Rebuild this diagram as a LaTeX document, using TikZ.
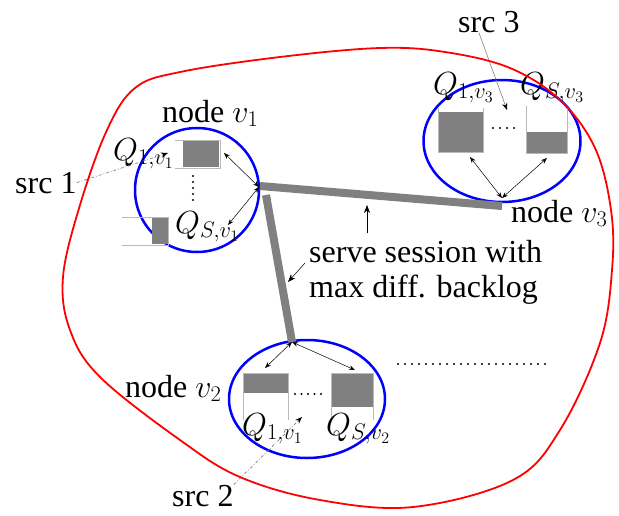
\documentclass[tikz,border=0pt]{standalone}
\usepackage{fix-cm}
\usepackage{fontspec}
\setmainfont{Liberation Serif}
\usetikzlibrary{arrows.meta,shapes.geometric}

\begin{document}
\begin{tikzpicture}[x=1pt,y=-1pt,
  font=\fontsize{32}{35}\selectfont,
  region/.style={draw=blue,line width=2.5pt,ellipse,inner sep=0pt},
  link/.style={draw=gray,line width=8pt},
  qwall/.style={draw=gray!55,line width=1pt},
  qfill/.style={fill=gray},
  label/.style={inner sep=0pt,anchor=base west},
  dbl/.style={{Stealth[length=6pt]}-{Stealth[length=6pt]},line width=0.5pt},
  pointer/.style={-{Stealth[length=8pt]},line width=0.5pt},
  srcarrow/.style={-{Stealth[length=7pt,color=black]},gray,line width=0.7pt,dash dot}]
\useasboundingbox (0,0) rectangle (619,515);

% regions of the three nodes
\node[region,minimum width=124pt,minimum height=124pt] (v1) at (197,190) {};
\node[region,minimum width=156pt,minimum height=118pt] (v2) at (307,399) {};
\node[region,minimum width=157pt,minimum height=122pt] (v3) at (502,141) {};

\coordinate (p1) at (259,187);
\coordinate (p2) at (292,342);
\coordinate (p3) at (502,198);

% links
\coordinate (j1) at (260,186);
\coordinate (j2) at (266,195);
\coordinate (j3) at (502,206);
\draw[link] (j1) -- (j3);
\draw[link] (j2) -- (p2);

% queues of node v1
\fill[qfill] (183,141) rectangle (219,167);
\draw[qwall] (175,140) -- (220,140) -- (220,168) -- (175,168);
\fill[qfill] (152,217) rectangle (168,244);
\draw[qwall] (122,217) -- (168,217) -- (168,245) -- (122,245);
\foreach \y in {176,182,...,200} \fill (193,\y) circle (1.2);
% queues of node v2
\fill[qfill] (243,374) rectangle (288,393);
\draw[qwall] (243,420) -- (243,373) -- (288,373) -- (288,420);
\fill[qfill] (331,374) rectangle (373,407);
\draw[qwall] (331,420) -- (331,373) -- (373,373) -- (373,420);
\foreach \x in {295,301.5,...,322} \fill (\x,394) circle (1.2);
% queues of node v3
\fill[qfill] (438,112) rectangle (483,152);
\draw[qwall] (438,108) -- (438,152) -- (483,152) -- (483,108);
\fill[qfill] (527,132) rectangle (567,153);
\draw[qwall] (526,106) -- (526,153) -- (567,153) -- (567,106);
\foreach \x in {493,500,...,514} \fill (\x,128) circle (1.2);

\coordinate (a11) at (224,153);
\coordinate (a12) at (228,225);
\coordinate (a21) at (265,368);
\coordinate (a22) at (355,370);
\coordinate (a31) at (470,157);
\coordinate (a32) at (547,158);
\draw[dbl] (p1) -- (a11);
\draw[dbl] (p1) -- (a12);
\draw[dbl] (p2) -- (a21);
\draw[dbl] (p2) -- (a22);
\draw[dbl] (p3) -- (a31);
\draw[dbl] (p3) -- (a32);

% labels
\node[label] (n1) at (162,122) {node $v_1$};
\node[label] (n2) at (125,397) {node $v_2$};
\node[label] (n3) at (511,222) {node $v_3$};
\node[label] (q11) at (113,160) {$Q_{1,v_1}$};
\node[label] (qs1) at (175,233) {$Q_{S,v_1}$};
\node[label] (q12) at (242,435) {$Q_{1,v_1}$};
\node[label] (qs2) at (326,435) {$Q_{S,v_2}$};
\node[label] (q13) at (433,94) {$Q_{1,v_3}$};
\node[label] (qs3) at (520,94) {$Q_{S,v_3}$};

% sources
\node[label] (src1) at (15,193) {src 1};
\node[label] (src2) at (172,506) {src 2};
\node[label] (src3) at (458,32) {src 3};
\coordinate (s1) at (168,153);
\coordinate (s2) at (302,417);
\coordinate (s3) at (507,110);
\draw[srcarrow] (src1.east) -- (s1);
\draw[srcarrow] (src2.north east) -- (s2);
\draw[-{Stealth[length=7pt,color=black]},gray,line width=0.6pt] ([xshift=-10pt]src3.south) -- (s3);

% scheduling note
\node[inner sep=0pt,anchor=north west,align=left] (serve) at (309,240)
  {serve session with\\max diff. backlog};
\coordinate (t1) at (367,233);
\coordinate (h1) at (367,205);
\coordinate (t2) at (305,263);
\coordinate (h2) at (288,282);
\draw[pointer] (t1) -- (h1);
\draw[pointer] (t2) -- (h2);

\foreach \x in {398,405,...,545} \fill (\x,364) circle (1.2);

% network boundary
\draw[red,line width=1.8pt] plot[smooth cycle,tension=0.6] coordinates {
  (107,130) (135,88) (180,72) (280,57) (380,48) (445,52) (510,68)
  (560,100) (595,148) (611,210) (612,270) (600,343) (560,430)
  (513,480) (413,507) (320,500) (240,477) (180,440) (100,377)
  (70,330) (63,277) (80,205)};
\end{tikzpicture}
\end{document}
